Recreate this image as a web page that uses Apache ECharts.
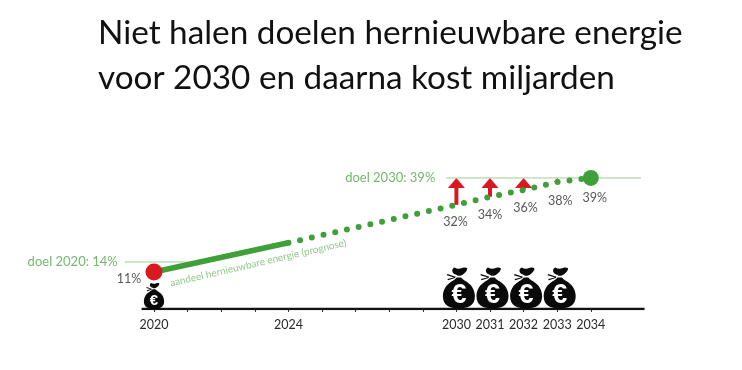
<!DOCTYPE html>
<html>
<head>
<meta charset="utf-8">
<style>html,body{margin:0;padding:0;background:#fff}#chart{width:742px;height:370px}</style>
<script src="https://cdn.jsdelivr.net/npm/echarts@6/dist/echarts.min.js"></script>
</head>
<body>
<div id="chart"></div>
<script>
// x axis is not linear in years: 2024 -> 2030 only takes 5 slots in the original
var tickSlots = [0, 4, 9, 10, 11, 12, 13];
var tickLabels = ['2020', '2024', '2030', '2031', '2032', '2033', '2034'];
var allSlots = [0, 1, 2, 3, 4, 5, 6, 7, 8, 9, 10, 11, 12, 13];

var solidShare = [[0, 11], [4, 19.7]];
var dottedShare = [[4, 19.7], [9, 31], [10, 33.4], [11, 35.4], [12, 37.8], [13, 39]];
var goal2020 = [[-0.87, 14], [1, 14]];
var goal2030 = [[8.7, 39], [14.5, 39]];
var axisBase = [[-0.37, 0], [14.6, 0]];

var pctSlots = [0, 9, 10, 11, 12, 13];
var pctValues = [11, 32, 34, 36, 38, 39];
var pctShiftX = [-25, -1, 0, 2, 3, 4];

var arrowSlots = [9, 10, 11, 12];
var arrowFrom = [31, 33.4, 35.4, 37.8];
var arrowTo = [39, 39, 39, 39];

var bigBagSlots = [9, 10, 11, 12];
var smallBagSlots = [0];

var green = '#3f9f38', lightGreen = '#74b96c', red = '#d81920';
var font = 'Lato';

var bagPath = 'M36 2 C44 7 52 7 62 3 C70 0 78 3 76 8 C72 18 62 25 54 28 L46 28 C44 24 36 24 32 19 C28 14 28 6 36 2 Z ' +
    'M43 33 L57 33 C60 38 66 41 72 45 C90 56 100 72 100 92 C100 120 80 130 50 130 C20 130 0 120 0 92 C0 72 10 56 28 45 C34 41 40 38 43 33 Z ' +
    'M14 22 L40 31 L38 34 L12 26 Z M14 38 L38 32 L38 35 L16 42 Z';

function renderArrow(params, api) {
    var base = api.coord([api.value(0), api.value(1)]);
    var tip = api.coord([api.value(0), api.value(2)]);
    var len = base[1] - tip[1];
    var headH = Math.min(10, len);
    var headW = 17 * headH / 10;
    return {
        type: 'group',
        children: [{
            type: 'rect',
            shape: { x: tip[0] - 2, y: tip[1] + headH - 1, width: 4, height: Math.max(0, len - headH + 1) },
            style: { fill: red }
        }, {
            type: 'polygon',
            shape: { points: [[tip[0], tip[1]], [tip[0] + headW / 2, tip[1] + headH], [tip[0] - headW / 2, tip[1] + headH]] },
            style: { fill: red }
        }]
    };
}

function bagRenderer(w, h, dx, fontSize) {
    return function (params, api) {
        var p = api.coord([api.value(0), 0]);
        var left = p[0] + dx - w / 2;
        var top = p[1] - h;
        return {
            type: 'group',
            children: [{
                type: 'path',
                shape: { pathData: bagPath, x: left, y: top, width: w, height: h },
                style: { fill: '#0a0a0a' }
            }, {
                type: 'text',
                style: {
                    text: '€', x: left + w / 2, y: top + h * 0.68,
                    align: 'center', verticalAlign: 'middle',
                    fill: '#fff', font: 'bold ' + fontSize + 'px "Liberation Sans"'
                }
            }]
        };
    };
}

function goalLine(name, data, text, gap) {
    return {
        name: name, type: 'line', data: data, symbol: 'none', silent: true,
        lineStyle: { color: '#9ccf95', width: 1 },
        markPoint: {
            symbol: 'circle', symbolSize: 0,
            data: [{
                coord: data[0],
                label: {
                    show: true, formatter: text, position: 'left', distance: gap,
                    color: lightGreen, fontFamily: font, fontSize: 13
                }
            }]
        }
    };
}

var chart = echarts.init(document.getElementById('chart'));
chart.setOption({
    animation: false,
    backgroundColor: '#fff',
    title: {
        text: 'Niet halen doelen hernieuwbare energie\nvoor 2030 en daarna kost miljarden',
        left: 98, top: 11, padding: 0,
        textStyle: { color: '#111', fontFamily: font, fontWeight: 'normal', fontSize: 33.3, lineHeight: 45 }
    },
    grid: { left: 120.4, right: 84, top: 157.8, bottom: 61 },
    xAxis: {
        type: 'value', min: -1, max: 15,
        splitLine: { show: false },
        axisLine: { show: false },
        axisTick: { show: true, customValues: allSlots, length: 3, lineStyle: { color: '#333', width: 1 } },
        axisLabel: {
            customValues: tickSlots, margin: 9, color: '#2a2a2a', fontFamily: font, fontSize: 12.5,
            formatter: function (v) { return tickLabels[tickSlots.indexOf(v)]; }
        }
    },
    yAxis: { type: 'value', min: 0, max: 45, show: false },
    series: [
        goalLine('doel 2020', goal2020, 'doel 2020: 14%', 7),
        goalLine('doel 2030', goal2030, 'doel 2030: 39%', 11),
        {
            name: 'as', type: 'line', data: axisBase, symbol: 'none', silent: true, z: 3,
            lineStyle: { color: '#111', width: 2.5 }
        },
        {
            name: 'pijlen', type: 'custom', z: 2, silent: true,
            data: arrowSlots.map(function (s, i) { return [s, arrowFrom[i], arrowTo[i]]; }),
            renderItem: renderArrow
        },
        {
            name: 'aandeel', type: 'line', data: solidShare, symbol: 'none', z: 4, silent: true,
            lineStyle: { color: green, width: 5.5, cap: 'round' }
        },
        {
            name: 'prognose', type: 'line', data: dottedShare, symbol: 'none', z: 4, silent: true,
            lineStyle: { color: green, width: 6, type: [0, 12], cap: 'round' }
        },
        {
            name: 'start', type: 'scatter', data: [solidShare[0]], symbolSize: 17, z: 5, silent: true,
            itemStyle: { color: red, opacity: 1 }
        },
        {
            name: 'eind', type: 'scatter', data: [dottedShare[dottedShare.length - 1]], symbolSize: 16, z: 5, silent: true,
            itemStyle: { color: green, opacity: 1 }
        },
        {
            name: 'percentages', type: 'scatter', symbolSize: 0, z: 6, silent: true,
            data: pctSlots.map(function (s, i) {
                return {
                    value: [s, pctValues[i]],
                    label: {
                        show: true, formatter: pctValues[i] + '%', position: 'inside',
                        offset: [pctShiftX[i], i === 0 ? 7 : 20],
                        color: '#2a2a2a', fontFamily: font, fontSize: 12.5
                    }
                };
            })
        },
        {
            name: 'lijnlabel', type: 'scatter', symbolSize: 0, z: 6, silent: true,
            data: [{
                value: [3.1, 13.7],
                label: {
                    show: true, formatter: 'aandeel hernieuwbare energie (prognose)', position: 'inside',
                    rotate: 13, color: lightGreen, fontFamily: font, fontSize: 10
                }
            }]
        },
        {
            name: 'zakken', type: 'custom', z: 5, silent: true,
            data: bigBagSlots.map(function (s) { return [s]; }),
            renderItem: bagRenderer(32, 42, 2.5, 27)
        },
        {
            name: 'zak 2020', type: 'custom', z: 5, silent: true,
            data: smallBagSlots.map(function (s) { return [s]; }),
            renderItem: bagRenderer(21, 26, 0, 15)
        }
    ]
});
</script>
</body>
</html>
